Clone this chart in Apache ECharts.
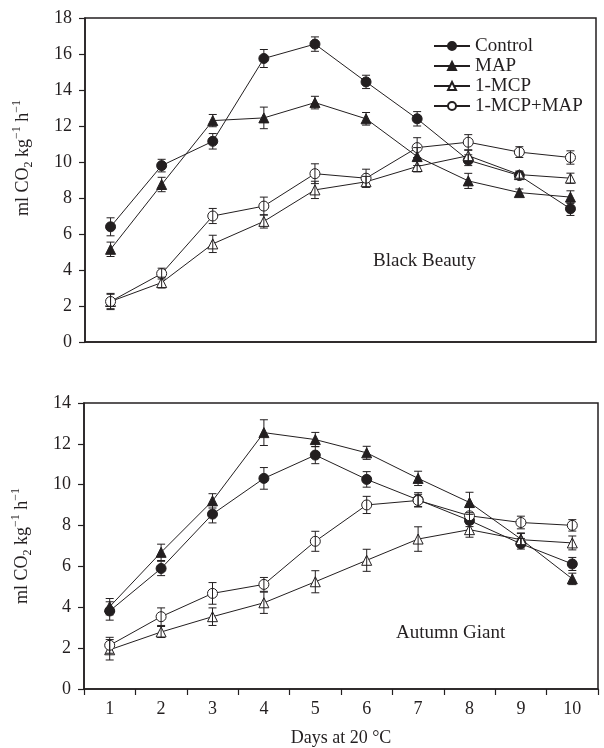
<!DOCTYPE html>
<html>
<head>
<meta charset="utf-8">
<script src="https://cdn.jsdelivr.net/npm/echarts@6/dist/echarts.min.js"></script>
<style>html,body{margin:0;padding:0;background:#fff;}#c{width:604px;height:748px;}</style>
</head>
<body>
<div id="c"></div>
<script>
var days = ['1','2','3','4','5','6','7','8','9','10'];
var seriesNames = ['Control','MAP','1-MCP','1-MCP+MAP'];

// Black Beauty
var bbControl    = [6.4, 9.8, 11.15, 15.75, 16.55, 14.45, 12.4, 10.1, 9.25, 7.4];
var bbControlErr = [0.5, 0.35, 0.43, 0.5, 0.4, 0.37, 0.4, 0.3, 0.2, 0.37];
var bbMap        = [5.15, 8.75, 12.3, 12.45, 13.3, 12.4, 10.3, 8.95, 8.3, 8.05];
var bbMapErr     = [0.4, 0.4, 0.34, 0.6, 0.35, 0.35, 0.5, 0.42, 0.2, 0.35];
var bbMcp        = [2.25, 3.3, 5.45, 6.7, 8.45, 8.9, 9.75, 10.35, 9.3, 9.1];
var bbMcpErr     = [0.4, 0.3, 0.48, 0.37, 0.48, 0.3, 0.3, 0.3, 0.2, 0.28];
var bbMcpMap     = [2.25, 3.8, 7.0, 7.55, 9.35, 9.1, 10.8, 11.1, 10.55, 10.25];
var bbMcpMapErr  = [0.45, 0.3, 0.42, 0.5, 0.55, 0.5, 0.55, 0.42, 0.3, 0.37];

// Autumn Giant
var agControl    = [3.82, 5.9, 8.56, 10.31, 11.45, 10.26, 9.26, 8.25, 7.11, 6.12];
var agControlErr = [0.45, 0.35, 0.43, 0.53, 0.42, 0.38, 0.35, 0.3, 0.26, 0.32];
var agMap        = [4.03, 6.69, 9.21, 12.55, 12.21, 11.56, 10.31, 9.13, 7.34, 5.39];
var agMapErr     = [0.4, 0.4, 0.35, 0.63, 0.35, 0.32, 0.35, 0.5, 0.3, 0.28];
var agMcp        = [1.92, 2.79, 3.54, 4.22, 5.25, 6.3, 7.34, 7.8, 7.31, 7.15];
var agMcpErr     = [0.5, 0.27, 0.43, 0.52, 0.54, 0.54, 0.6, 0.37, 0.3, 0.34];
var agMcpMap     = [2.14, 3.54, 4.68, 5.12, 7.23, 9.01, 9.23, 8.48, 8.15, 8.01];
var agMcpMapErr  = [0.39, 0.43, 0.53, 0.34, 0.49, 0.42, 0.3, 0.4, 0.31, 0.28];

var yTop = {min: 0, max: 18, interval: 2};
var yBottom = {min: 0, max: 14, interval: 2};

var INK = '#231f20';
var FONT = '"Liberation Serif", "Times New Roman", serif';

var markers = [
  {symbol: 'circle', size: 10, fill: INK},
  {symbol: 'triangle', size: 10, fill: INK},
  {symbol: 'triangle', size: 10, fill: '#ffffff'},
  {symbol: 'circle', size: 10, fill: '#ffffff'}
];

function lineSeries(name, values, idx, gridIdx) {
  var m = markers[idx];
  return {
    type: 'line', name: name, data: values,
    xAxisIndex: gridIdx, yAxisIndex: gridIdx,
    symbol: m.symbol, symbolSize: m.size, showAllSymbol: true,
    lineStyle: {color: INK, width: 1},
    itemStyle: {color: m.fill, borderColor: INK, borderWidth: 1},
    emphasis: {disabled: true},
    animation: false, z: 3
  };
}

function errSeries(values, errs, gridIdx) {
  var d = values.map(function (v, i) { return [i, v - errs[i], v + errs[i]]; });
  return {
    type: 'custom', name: 'err', data: d,
    xAxisIndex: gridIdx, yAxisIndex: gridIdx,
    encode: {x: 0, y: [1, 2]},
    z: 4, animation: false, silent: true,
    renderItem: function (params, api) {
      var x = api.value(0);
      var lo = api.coord([x, api.value(1)]);
      var hi = api.coord([x, api.value(2)]);
      var w = 4;
      var st = {stroke: INK, lineWidth: 1};
      return {
        type: 'group',
        children: [
          {type: 'line', shape: {x1: lo[0], y1: lo[1], x2: hi[0], y2: hi[1]}, style: st},
          {type: 'line', shape: {x1: lo[0] - w, y1: lo[1], x2: lo[0] + w, y2: lo[1]}, style: st},
          {type: 'line', shape: {x1: hi[0] - w, y1: hi[1], x2: hi[0] + w, y2: hi[1]}, style: st}
        ]
      };
    }
  };
}

var yName = '{n|ml CO}{sub|2}{n| kg}{sup|\u22121}{n| h}{sup|\u22121}';
var yNameStyle = {
  fontFamily: FONT, color: INK,
  rich: {
    n: {fontFamily: FONT, fontSize: 18, color: INK, lineHeight: 24},
    sub: {fontFamily: FONT, fontSize: 12, color: INK, verticalAlign: 'bottom', lineHeight: 12},
    sup: {fontFamily: FONT, fontSize: 12, color: INK, verticalAlign: 'top', lineHeight: 12}
  }
};

function yAxisDef(gridIdx, rng, namePad) {
  return {
    type: 'value', gridIndex: gridIdx, min: rng.min, max: rng.max, interval: rng.interval,
    name: yName, nameLocation: 'middle', nameGap: 50,
    nameTextStyle: Object.assign({}, yNameStyle, {padding: namePad}),
    axisLine: {show: true, lineStyle: {color: INK, width: 1.5}},
    axisTick: {show: true, length: 6, lineStyle: {color: INK, width: 1.2}},
    axisLabel: {fontFamily: FONT, fontSize: 18, color: INK, margin: 13},
    splitLine: {show: false}
  };
}

var option = {
  backgroundColor: '#ffffff',
  animation: false,
  textStyle: {fontFamily: FONT},
  grid: [
    {left: 85, top: 18, width: 511, height: 324, show: true, borderColor: INK, borderWidth: 1.5, containLabel: false},
    {left: 84, top: 403, width: 514, height: 287, show: true, borderColor: INK, borderWidth: 1.5, containLabel: false}
  ],
  xAxis: [
    {type: 'category', gridIndex: 0, data: days, boundaryGap: true,
     axisLine: {lineStyle: {color: INK, width: 1.5}},
     axisTick: {show: false}, axisLabel: {show: false}},
    {type: 'category', gridIndex: 1, data: days, boundaryGap: true,
     name: 'Days at 20 \u00B0C', nameLocation: 'middle', nameGap: 40,
     nameTextStyle: {fontFamily: FONT, fontSize: 18, color: INK},
     axisLine: {lineStyle: {color: INK, width: 1.5}},
     axisTick: {show: true, length: 6, interval: 0, lineStyle: {color: INK, width: 1.2}},
     axisLabel: {fontFamily: FONT, fontSize: 18, color: INK, margin: 11, interval: 0}}
  ],
  yAxis: [
    yAxisDef(0, yTop, [0, 0, 0, 44]),
    yAxisDef(1, yBottom, [0, 0, 0, 0])
  ],
  legend: {
    left: 428, top: 31, orient: 'vertical',
    data: seriesNames,
    itemWidth: 36, itemHeight: 10, itemGap: 0,
    textStyle: {fontFamily: FONT, fontSize: 19, color: INK, lineHeight: 20},
    selectedMode: false
  },
  graphic: [
    {type: 'text', left: 430 - 57, top: 263 - 11, style: {text: 'Black Beauty', font: '19px ' + FONT, fill: INK}},
    {type: 'text', left: 456 - 60, top: 635 - 11, style: {text: 'Autumn Giant', font: '19px ' + FONT, fill: INK}}
  ],
  series: [
    lineSeries(seriesNames[0], bbControl, 0, 0),
    lineSeries(seriesNames[1], bbMap, 1, 0),
    lineSeries(seriesNames[2], bbMcp, 2, 0),
    lineSeries(seriesNames[3], bbMcpMap, 3, 0),
    errSeries(bbControl, bbControlErr, 0),
    errSeries(bbMap, bbMapErr, 0),
    errSeries(bbMcp, bbMcpErr, 0),
    errSeries(bbMcpMap, bbMcpMapErr, 0),
    lineSeries(seriesNames[0], agControl, 0, 1),
    lineSeries(seriesNames[1], agMap, 1, 1),
    lineSeries(seriesNames[2], agMcp, 2, 1),
    lineSeries(seriesNames[3], agMcpMap, 3, 1),
    errSeries(agControl, agControlErr, 1),
    errSeries(agMap, agMapErr, 1),
    errSeries(agMcp, agMcpErr, 1),
    errSeries(agMcpMap, agMcpMapErr, 1)
  ]
};

var chart = echarts.init(document.getElementById('c'), null, {renderer: 'canvas'});
chart.setOption(option);
</script>
</body>
</html>
